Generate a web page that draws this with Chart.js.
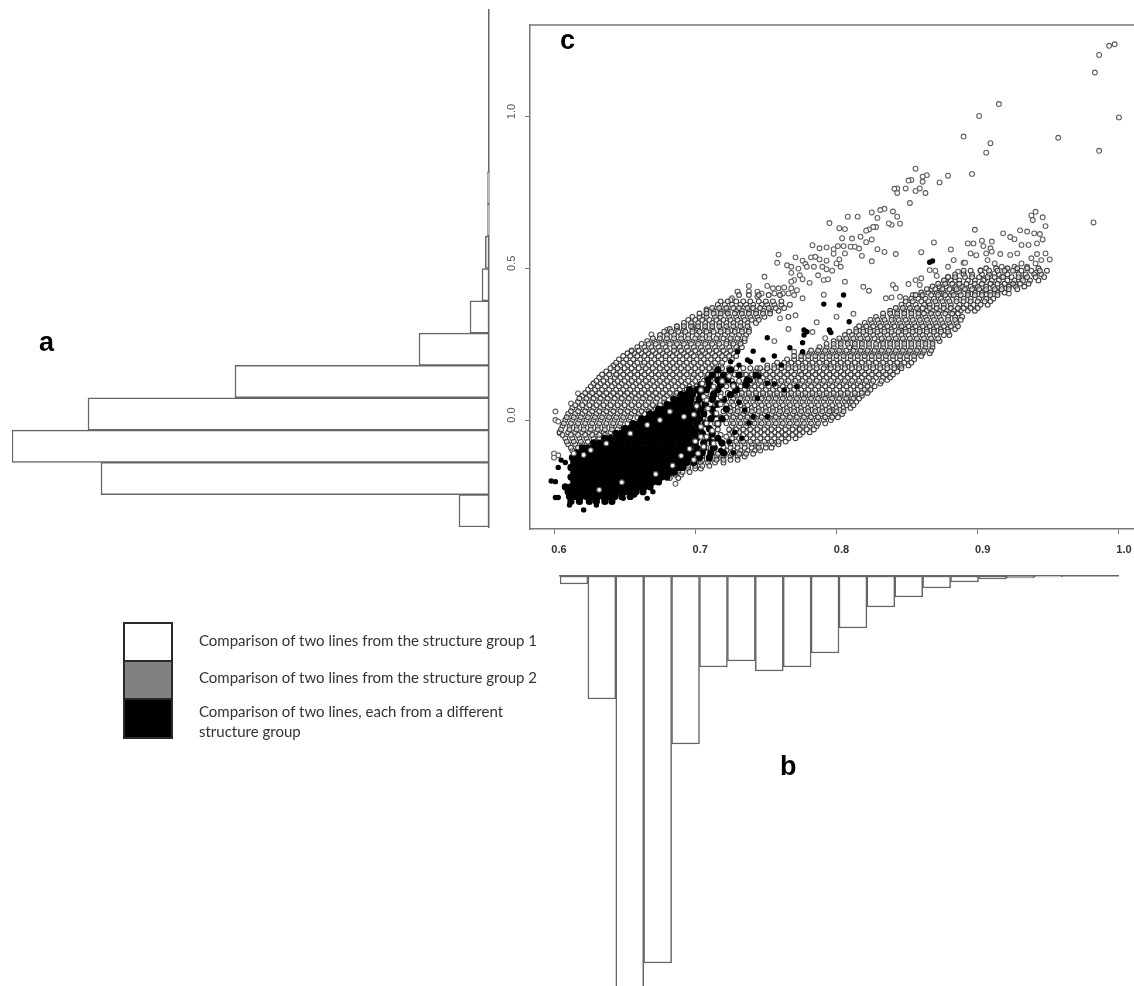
<!DOCTYPE html>
<html lang="en">
<head>
<meta charset="UTF-8">
<title>Line comparison histograms and scatter</title>
<script src="https://cdn.jsdelivr.net/npm/chart.js"></script>
<style>
    body { margin: 0; background: #fff; width: 1134px; height: 986px; overflow: hidden; position: relative; }
    canvas { position: absolute; filter: blur(0.45px); }
    .panel { position: absolute; font: bold 27px "Liberation Sans", sans-serif; color: #000; line-height: 30px; filter: blur(0.4px); }
    .note { position: absolute; left: 199px; font: 15px Lato, sans-serif; color: #333; line-height: 18px; white-space: nowrap; filter: blur(0.4px); }
    .swatch { position: absolute; left: 123px; width: 50px; box-sizing: border-box; border: 2px solid #2a2a2a; }
</style>
</head>
<body>
<canvas id="chartA" width="500" height="560" style="left:0;top:0"></canvas>
<canvas id="chartC" width="650" height="570" style="left:490px;top:0"></canvas>
<canvas id="chartB" width="594" height="426" style="left:540px;top:560px"></canvas>

<div class="panel" style="left:39px;top:327px">a</div>
<div class="panel" style="left:780px;top:751px">b</div>
<div class="panel" style="left:560px;top:25px">c</div>

<div class="swatch" style="top:622px;height:40px;background:#fff"></div>
<div class="swatch" style="top:660px;height:40px;background:#808080"></div>
<div class="swatch" style="top:698px;height:41px;background:#000"></div>
<div class="note" style="top:631px">Comparison of two lines from the structure group 1</div>
<div class="note" style="top:668px">Comparison of two lines from the structure group 2</div>
<div class="note" style="top:702px">Comparison of two lines, each from a different</div>
<div class="note" style="top:722px">structure group</div>

<script>
// histogram a, bottom bin first
var binsA = ['b1','b2','b3','b4','b5','b6','b7','b8','b9','b10','b11','b12','b13','b14','b15','b16'];
var valuesA = [30,388,477,401,254,70,19,7,3.7,1.5,1.5,0,0,0,0,0];

// histogram b, left bin first (third bar runs off the page)
var binsB = ['b1','b2','b3','b4','b5','b6','b7','b8','b9','b10','b11','b12','b13','b14','b15','b16','b17','b18','b19','b20'];
var valuesB = [8,123,520,387,168,91,85,95,91,77,52,31,21,12,6,3,2,1,0,0];

var xTicks = [0.6,0.7,0.8,0.9,1.0];

// scatter, x and y in thousandths
var sparseOpen = [[993,1233],[997,1238],[986,1203],[983,1145],[1000,997],[915,1041],[901,1002],[890,934],[957,930],[986,887],[909,912],[906,881],[982,651],[896,811],[879,805],[873,783],[856,828],[864,807],[861,802],[861,785],[853,791],[851,789],[859,763],[856,755],[849,763],[863,748],[843,763],[841,762],[843,748],[852,715],[840,687],[834,696],[831,692],[825,684],[843,670],[829,666],[808,670],[815,670],[795,649],[802,632],[806,629],[845,647],[839,643],[837,648],[828,636],[826,636],[823,628],[821,624],[817,604],[811,598],[804,599],[825,595],[821,586],[783,576],[788,566],[793,569],[798,563],[801,573],[805,573],[810,571],[813,571],[816,565],[829,563],[834,554],[842,547],[806,549],[798,548],[818,541],[825,523],[802,529],[800,516],[803,505],[759,545],[758,518],[771,536],[776,525],[778,514],[782,536],[785,538],[788,529],[793,525],[765,510],[768,505],[773,499],[779,505],[784,505],[790,505],[793,497],[797,492],[768,485],[774,477],[776,464],[787,477],[791,461],[794,464],[770,461],[768,456],[749,472],[781,452],[806,456],[819,439],[823,426],[791,413],[738,442],[738,424],[730,423],[726,401],[744,423],[747,417],[751,442],[755,434],[759,434],[763,437],[768,434],[772,428],[756,417],[762,417],[766,417],[770,412],[776,401],[744,406],[941,686],[938,674],[946,668],[939,659],[948,639],[898,627],[918,615],[930,625],[935,621],[940,615],[944,613],[946,595],[923,603],[926,596],[869,585],[893,582],[897,582],[903,591],[910,588],[904,573],[942,582],[931,577],[936,577],[881,562],[860,553],[909,566],[910,555],[906,549],[895,549],[899,543],[916,547],[923,544],[928,549],[948,549],[942,547],[951,529],[938,533],[945,527],[907,527],[883,527],[890,518],[891,518],[879,505],[912,516],[917,505],[926,505],[935,505],[931,516],[941,516],[866,494],[870,492],[886,489],[890,483],[879,472],[902,494],[912,483],[920,494],[927,494],[941,485],[860,467],[871,475],[877,461],[884,461],[905,464],[917,472],[931,467],[856,461],[859,445],[851,448],[840,445],[842,434],[909,450],[927,450],[923,445],[920,434],[867,431],[873,434],[884,434],[890,434],[899,437],[905,428],[913,428],[854,412],[860,412],[874,417],[881,412],[893,417],[906,412],[922,417],[835,401],[839,404],[845,406],[849,401],[604,-43],[603,-116],[601,0],[600,-110],[786,322],[800,340],[771,345],[766,300],[783,290],[792,270],[760,335],[812,350],[756,260],[770,225],[686,-210],
    [617,88],[601,28],[603,-5],[604,-41],[600,-124],[612,55],[628,121],[643,181],[655,225],[669,282],[680,297],[687,308],[698,308],[706,341],[708,365],[722,357],[730,423],[725,395],[703,-148],[716,-126],[732,-110],[744,-88],[763,-49],[774,-27],[796,30],[808,61],[822,99],[836,132],[845,176]];

// each row starts with its y, then the x values read along that row
var openRows = [
    [500,906,913,921,928,935,943],
    [480,884,890,896,903,908,915,921,929,934,940,945],
    [460,876,881,887,893,898,904,910,915,921,926,932,937,943],
    [440,868,873,878,884,889,895,900,906,911,917,922,927,933],
    [420,860,865,871,876,882,887,893,898,903,909,914,919],
    [400,853,858,863,869,874,879,885,890,895,901,906,911],
    [380,716,721,726,732,736,741,747,751,756,761,767,846,851,856,862,866,871,876,881,887,892,897,902,907],
    [360,708,713,718,723,729,733,738,743,748,753,759,838,843,848,853,858,864,868,873,878,883,888,893,898],
    [340,698,703,708,714,718,724,729,734,739,744,749,766,828,833,839,843,848,853,858,863,868,873,879,884,889],
    [320,692,697,702,707,712,717,722,727,732,737,743,820,825,830,835,840,845,850,855,860,865,870,875,880,885],
    [300,682,687,692,698,702,707,712,718,723,728,733,738,814,819,824,829,834,839,845,849,854,859,864,869,874,879,884],
    [280,675,680,685,690,695,701,705,710,716,721,726,731,736,806,811,816,821,826,831,836,841,846,851,856,861,866,871,876,880],
    [260,666,671,676,681,686,691,696,701,706,711,716,722,726,731,735,798,803,808,813,818,823,829,833,838,843,848,853,858,863,868,873],
    [240,659,664,669,674,679,685,689,694,699,704,709,714,719,724,729,733,788,793,798,803,809,813,818,823,828,833,838,843,848,853,858,863,868],
    [220,652,657,662,667,672,677,682,687,692,697,703,707,712,717,722,727,776,781,786,791,796,801,806,811,816,821,826,831,836,841,846,851,856,861,866],
    [200,646,651,656,661,666,671,676,682,686,691,696,701,706,711,716,721,726,765,770,775,780,785,790,795,800,805,810,815,820,825,830,835,840,845,850,855],
    [180,642,647,652,657,663,667,672,677,682,687,692,697,702,707,712,718,751,756,761,766,771,776,781,786,792,796,801,806,811,816,821,826,831,836,841,846,851],
    [160,637,642,647,652,657,662,667,672,678,682,687,692,697,702,707,712,743,748,753,758,763,768,774,778,783,788,793,798,803,808,813,818,823,828,833,838,843],
    [140,632,637,643,647,652,657,662,667,672,677,682,687,692,698,702,708,738,743,748,753,758,763,768,773,778,783,788,793,798,803,808,813,818,823,828,833,838],
    [120,628,633,638,643,648,653,658,663,668,673,678,683,688,693,698,704,735,740,745,750,755,760,765,770,775,780,785,790,795,800,805,810,815,820,825,831],
    [100,624,629,634,639,644,649,654,659,664,669,674,679,684,689,694,730,735,740,745,750,755,760,765,770,775,780,785,790,795,800,805,810,815,820,824],
    [80,620,625,630,635,640,645,650,655,660,665,670,675,680,686,728,733,738,743,748,753,758,763,768,773,778,783,788,793,798,803,808,813,818],
    [60,617,622,627,632,637,642,647,652,657,662,667,672,678,726,731,736,741,746,751,756,761,766,771,776,781,786,791,796,801,806,811,814],
    [40,613,618,623,628,633,638,643,648,653,658,663,668,672,725,730,735,740,745,750,755,760,765,770,775,780,785,790,795,800,805,810],
    [20,610,615,620,625,630,635,640,645,650,655,660,664,724,729,734,739,744,749,754,759,764,769,774,779,784,789,794,799,804],
    [0,608,613,618,623,628,633,638,643,648,653,726,731,736,741,746,751,756,761,766,771,776,781,786,791,796],
    [-20,606,611,616,621,626,631,636,641,646,726,731,736,741,746,751,756,761,766,771,776,781,786],
    [-40,604,610,615,620,625,630,635,640,726,731,736,741,746,751,756,761,766,771,776,781],
    [-60,608,613,618,623,628,632,726,731,736,741,746,751,756,761,766,771],
    [-80,610,615,620,725,730,735,740,745,750,755,759],
    [-100,613,722,727,732,737,742,746],
    [-120,705,710,715,720,725,730,735],
    [-140,694,699,704,709,714,720],
    [-160,690,695,700,704],
    [-180,686,690]
];

// rows read between the ones above
var openRowsBetween = [
    [492,890,895,902,908,914,919,925,931,938,944,949],
    [471,879,884,891,896,901,907,912,918,924,929,935,941,947],
    [449,872,877,882,887,892,898,903,909,914,919,925,930,936],
    [431,864,870,875,880,885,891,896,901,906,912,917,922,928],
    [412,731,738,745,752,760,856,861,867,872,877,883,888,893,898,903,909,914],
    [391,718,723,729,734,739,745,750,755,761,849,854,860,865,870,875,880,885,890,895,900,905,909],
    [369,712,717,722,727,731,737,741,746,752,757,763,842,847,852,857,861,866,871,876,881,886,890,895,900],
    [351,703,708,713,718,723,728,733,738,743,748,753,833,838,843,848,853,858,862,867,872,877,882,886],
    [330,695,700,705,710,715,720,725,730,735,740,745,824,829,834,839,844,849,854,859,864,869,874,879,884,888],
    [309,687,692,697,702,707,712,717,722,727,732,737,816,821,826,831,836,841,846,851,856,861,866,871,876,881,886],
    [291,678,683,688,693,698,703,708,713,718,723,728,733,738,809,814,819,824,829,834,839,844,849,854,859,864,869,874,879],
    [269,670,675,680,685,690,695,700,705,710,715,720,725,730,735,802,807,812,817,822,827,832,837,842,847,852,857,862,867,872],
    [251,662,667,672,677,682,687,692,697,702,707,712,717,722,727,732,793,798,803,808,813,818,823,828,833,838,843,848,853,858,863,868],
    [229,655,660,665,670,675,680,685,690,695,700,705,710,715,720,725,730,782,787,792,797,802,807,812,817,822,827,832,837,842,847,852,857,862,867],
    [211,649,654,659,664,669,674,679,684,689,694,699,704,709,714,719,724,729,770,775,780,785,790,795,800,805,810,815,820,825,830,835,840,845,850,855,860],
    [189,644,649,654,659,664,669,674,679,684,689,694,699,704,709,714,719,758,763,768,773,778,783,788,793,798,803,808,813,818,823,828,833,838,843,848,853],
    [171,640,645,650,655,660,665,670,675,680,685,690,695,700,705,710,714,719,724,729,734,739,744,746,751,756,761,766,771,776,781,786,791,796,801,806,811,816,821,826,831,836,841,846],
    [150,634,639,644,649,654,659,664,669,674,679,684,689,694,699,704,709,713,718,723,728,733,736,740,745,750,755,760,765,770,775,780,785,790,795,800,805,810,815,820,825,830,835,840],
    [129,630,635,640,645,650,655,660,665,670,675,680,685,690,695,700,706,711,716,721,726,731,736,741,746,751,756,761,766,771,776,781,786,791,796,801,806,811,816,821,826,832],
    [111,626,631,636,641,646,651,656,661,666,671,676,681,686,691,696,701,707,712,717,722,727,732,737,742,747,752,757,762,767,772,777,782,787,792,797,802,807,812,817,822,827],
    [89,622,627,632,637,642,647,652,657,662,667,672,677,682,687,692,697,703,708,713,718,723,728,733,738,743,748,753,758,763,768,773,778,783,788,793,798,803,808,813,818,822],
    [71,618,623,628,633,638,643,648,653,658,663,668,673,678,684,702,710,716,722,727,732,737,742,747,752,757,762,767,772,777,782,787,792,797,802,807,812,816],
    [49,615,620,625,630,635,640,645,650,655,660,665,670,675,696,702,708,714,722,727,732,737,742,747,752,757,762,767,772,777,782,787,792,797,802,807,812],
    [29,612,617,622,627,632,637,642,647,652,657,662,667,700,706,712,720,725,730,735,740,745,750,755,760,765,770,775,780,785,790,795,800,805],
    [9,609,614,619,624,629,634,639,644,649,654,659,700,706,712,718,722,727,732,737,742,747,752,757,762,767,772,777,782,787,792,797,801],
    [-11,607,612,617,622,627,632,637,642,647,652,702,708,714,722,727,732,737,742,747,752,757,762,767,772,777,782,787,792],
    [-31,605,611,616,621,626,631,636,641,645,704,710,716,724,729,734,739,744,749,754,759,764,769,774,779,784],
    [-49,606,612,617,622,627,632,636,700,706,712,718,724,729,734,739,744,749,754,759,764,769,774],
    [-71,609,614,619,624,629,706,712,718,724,729,734,739,744,749,754,759,764],
    [-91,612,617,622,708,714,720,725,730,735,740,745,750,754],
    [-111,716,721,726,731,736,741],
    [-131,700,705,710,715,720,725,730],
    [-151,690,695,700,705,710],
    [-171,686,691,696],
    [-191,682,688]
];

var sparseBlack = [[805,412],[791,382],[802,379],[777,297],[779,291],[777,280],[795,297],[796,288],[776,255],[767,238],[776,225],[751,271],[756,211],[748,198],[737,198],[739,192],[731,181],[725,192],[724,165],[761,181],[809,324],[741,227],[730,225],[751,121],[756,119],[772,110],[735,33],[741,11],[751,11],[763,99],[866,520],[868,524],[598,-201],[601,-203],[603,-156],[605,-132],[608,-140],[601,-255],[603,-255],[611,-280],[621,-296],[630,-280],[649,-258],[657,-247],[666,-258],[670,-236],[744,72],[738,-10],[728,-40],[724,-72],[731,58],[745,145],[739,130],[728,95],[733,-60],[718,-100],[727,-108]];

var blackRows = [
    [-268,612,618,625,630,636,641],
    [-252,611,615,619,623,627,631,635,639,643,648,654],
    [-236,610,614,618,622,626,630,634,638,642,646,650,654,658,663],
    [-220,608,612,616,620,624,628,632,636,640,644,648,652,656,660,664,668],
    [-204,614,618,622,626,630,634,638,642,646,650,654,658,662,666,670,674],
    [-188,612,616,620,624,628,632,636,640,644,648,652,656,660,664,668,672,676,680],
    [-172,614,618,622,626,630,634,638,642,646,650,654,658,662,666,670,674,678,682,685],
    [-156,612,616,620,624,628,632,636,640,644,648,652,656,660,664,668,672,676,680,684,688,691],
    [-140,614,618,622,626,630,634,638,642,646,650,654,658,662,666,670,674,678,682,686,690,694,699],
    [-124,613,617,621,625,629,633,637,641,645,649,653,657,661,665,669,673,677,681,685,689,693,697,703,710],
    [-108,616,620,624,628,632,636,640,644,648,652,656,660,664,668,672,676,680,684,688,692,696,700,705,711,720],
    [-92,620,624,628,632,636,640,644,648,652,656,660,664,668,672,676,680,684,688,692,696,701,706,713],
    [-76,628,632,636,640,644,648,652,656,660,664,668,672,676,680,684,688,692,696,700,706,712,719],
    [-60,636,640,644,648,652,656,660,664,668,672,676,680,684,688,692,696,701,709,716],
    [-44,644,648,652,656,660,664,668,672,676,680,684,688,692,696,700,705,712],
    [-28,650,654,658,662,666,670,674,678,682,686,690,694,698,703,710],
    [-12,656,660,664,668,672,676,680,684,688,692,696,701,707,716],
    [4,662,666,670,674,678,682,686,690,694,698,703,711,719],
    [20,668,672,676,680,684,688,692,696,701,706,714],
    [36,674,678,682,686,690,694,698,704,712,722],
    [52,680,684,688,692,696,701,707,716],
    [68,685,689,693,697,703,712,720],
    [84,690,694,698,704,713,725],
    [100,696,701,708,716,729],
    [116,704,710,718,727,736],
    [132,709,716,723,737],
    [148,712,720,731,743],
    [165,716,725]
];

var speckle = [[708,66],[701,46],[706,77],[704,99],[718,77],[704,-55],[708,-55],[702,-110],[713,-77],[699,-131],[682,28],[675,0],[666,-16],[654,-44],[637,-77],[626,-99],[621,-115],[614,-110],[692,11],[708,-11],[715,22],[704,-22],[722,-55],[706,-88],[713,110],[696,-95],[700,-70],[712,-35],[716,-12],[699,18],[709,38],[718,52],[705,120],[719,128],[727,112],[724,145],[690,-118],[684,-150],[672,-178],[648,-205],[632,-230]];

function rowsToPoints(rows) {
    var pts = [];
    rows.forEach(function (row) {
        row.slice(1).forEach(function (x) {
            pts.push({ x: x / 1000, y: row[0] / 1000 });
        });
    });
    return pts;
}

function pairsToPoints(pairs) {
    return pairs.map(function (p) { return { x: p[0] / 1000, y: p[1] / 1000 }; });
}

var barLine = '#666';

// histogram a grows to the left from the axis line
new Chart(document.getElementById('chartA').getContext('2d'), {
    type: 'bar',
    data: {
        labels: binsA,
        datasets: [{
            data: valuesA,
            backgroundColor: '#fff',
            borderColor: barLine,
            borderWidth: 1.5,
            borderSkipped: false,
            barPercentage: 1,
            categoryPercentage: 1
        }]
    },
    options: {
        indexAxis: 'y',
        responsive: false,
        animation: false,
        events: [],
        layout: { padding: { left: 12, right: 11, top: 10, bottom: 33 } },
        plugins: { legend: { display: false }, tooltip: { enabled: false } },
        scales: {
            x: { display: false, reverse: true, min: 0, max: 477 },
            y: {
                reverse: true,
                position: 'right',
                ticks: { display: false },
                grid: { display: false },
                border: { display: true, color: barLine, width: 1.5 },
                afterFit: function (s) { s.width = 0; }
            }
        }
    }
});

// histogram b hangs from its top line
new Chart(document.getElementById('chartB').getContext('2d'), {
    type: 'bar',
    data: {
        labels: binsB,
        datasets: [{
            data: valuesB,
            backgroundColor: '#fff',
            borderColor: barLine,
            borderWidth: 1.5,
            borderSkipped: false,
            barPercentage: 1,
            categoryPercentage: 1
        }]
    },
    options: {
        responsive: false,
        animation: false,
        events: [],
        layout: { padding: { left: 20, right: 16, top: 16, bottom: 0 } },
        plugins: { legend: { display: false }, tooltip: { enabled: false } },
        scales: {
            x: {
                position: 'top',
                ticks: { display: false },
                grid: { display: false },
                border: { display: true, color: barLine, width: 1.5 },
                afterFit: function (s) { s.height = 0; }
            },
            y: { display: false, reverse: true, min: 0, max: 410 }
        }
    }
});

// only the top of the frame, the axes draw left and bottom
var topLine = {
    id: 'topLine',
    afterDraw: function (chart) {
        var ctx = chart.ctx, a = chart.chartArea;
        ctx.save();
        ctx.strokeStyle = '#777';
        ctx.lineWidth = 1.5;
        ctx.beginPath();
        ctx.moveTo(a.left, a.top);
        ctx.lineTo(a.right, a.top);
        ctx.stroke();
        ctx.restore();
    }
};

function openSet(points, order, fill, ring) {
    return {
        data: points,
        order: order,
        pointRadius: 2.4,
        pointBorderWidth: 1.1,
        pointBorderColor: ring,
        pointBackgroundColor: fill
    };
}

function blackSet(points, order, radius) {
    return {
        data: points,
        order: order,
        pointRadius: radius,
        pointBorderWidth: 0,
        pointBackgroundColor: '#000'
    };
}

new Chart(document.getElementById('chartC').getContext('2d'), {
    type: 'scatter',
    data: {
        datasets: [
            openSet(pairsToPoints(speckle), 1, '#fff', '#555'),
            blackSet(pairsToPoints(sparseBlack), 2, 2.7),
            blackSet(rowsToPoints(blackRows), 3, 3.6),
            openSet(rowsToPoints(openRowsBetween), 4, 'rgba(255,255,255,0.55)', '#3c3c3c'),
            openSet(rowsToPoints(openRows), 5, 'rgba(255,255,255,0.55)', '#3c3c3c'),
            openSet(pairsToPoints(sparseOpen), 6, '#fff', '#5e5e5e')
        ]
    },
    plugins: [topLine],
    options: {
        responsive: false,
        animation: false,
        events: [],
        layout: { padding: { top: 25, left: 0, right: 0, bottom: 0 } },
        plugins: { legend: { display: false }, tooltip: { enabled: false } },
        scales: {
            x: {
                type: 'linear',
                min: 0.583,
                max: 1.0113,
                afterFit: function (s) { s.height = 41; s.paddingLeft = 0; s.paddingRight = 0; },
                afterBuildTicks: function (s) { s.ticks = xTicks.map(function (v) { return { value: v }; }); },
                border: { display: true, color: '#777', width: 1.5 },
                grid: { drawOnChartArea: false, drawTicks: true, tickLength: 5, color: '#777' },
                ticks: {
                    maxRotation: 0,
                    labelOffset: 5,
                    padding: 9,
                    color: '#333',
                    font: { family: 'Liberation Sans', size: 11, weight: 'bold' },
                    callback: function (v) { return v.toFixed(1); }
                }
            },
            y: {
                type: 'linear',
                min: -0.359,
                max: 1.3015,
                afterFit: function (s) { s.width = 40; s.paddingTop = 0; s.paddingBottom = 0; },
                border: { display: true, color: '#777', width: 1.5 },
                grid: { drawOnChartArea: false, drawTicks: true, tickLength: 5, color: '#777' },
                ticks: {
                    stepSize: 0.5,
                    includeBounds: false,
                    minRotation: 90,
                    maxRotation: 90,
                    crossAlign: 'center',
                    labelOffset: -5,
                    padding: 5,
                    color: '#555',
                    font: { family: 'Liberation Sans', size: 11 },
                    callback: function (v) { return v.toFixed(1); }
                }
            }
        }
    }
});
</script>
</body>
</html>
